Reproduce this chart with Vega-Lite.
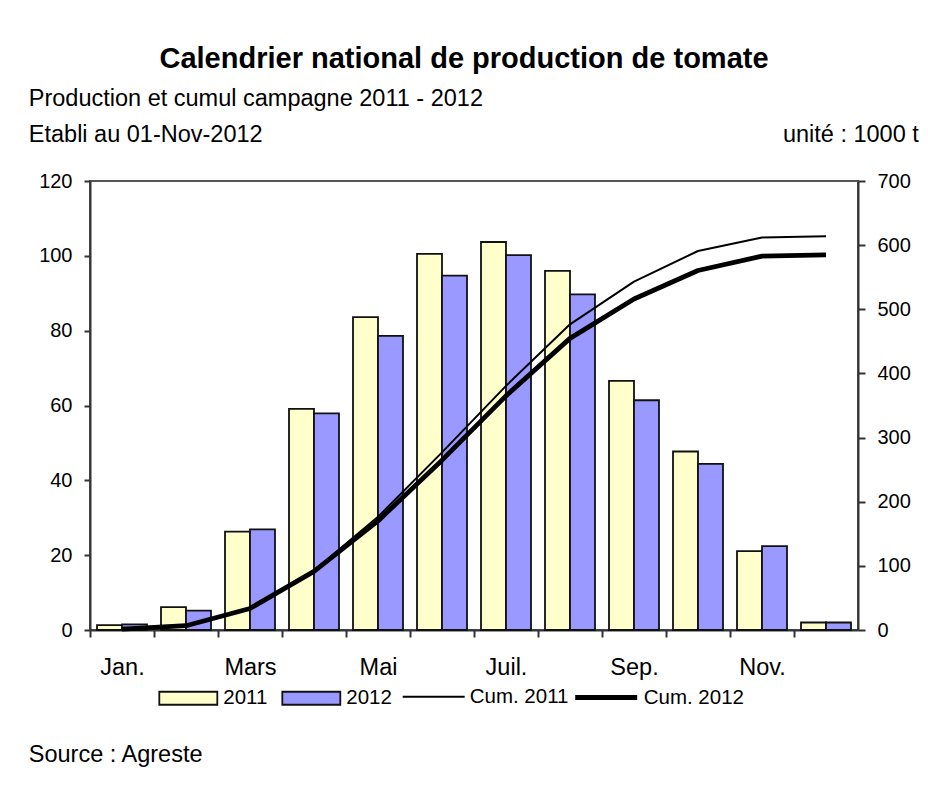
{
  "$schema": "https://vega.github.io/schema/vega-lite/v6.json",
  "width": 768,
  "height": 449,
  "autosize": {"type": "none"},
  "padding": {"left": 90, "top": 181, "right": 70, "bottom": 159},
  "background": "white",
  "config": {
    "font": "Liberation Sans",
    "view": {"stroke": "#555", "strokeWidth": 2},
    "axis": {
      "domainColor": "#333", "domainWidth": 2, "tickColor": "#333", "tickWidth": 2,
      "labelColor": "#000", "labelFont": "Liberation Sans", "grid": false,
      "titleFont": "Liberation Sans", "titleColor": "#000", "titleFontWeight": "normal"
    }
  },
  "title": {
    "text": "Calendrier national de production de tomate",
    "anchor": "middle", "frame": "group", "orient": "top",
    "font": "Liberation Sans", "fontSize": 29, "fontWeight": "bold", "color": "#000",
    "baseline": "alphabetic", "offset": 10, "dx": -10, "dy": 21
  },
  "datasets": {
    "prod": [
      {"month": "Jan.", "year": "2011", "value": 1.3}, {"month": "Jan.", "year": "2012", "value": 1.5},
      {"month": "Fév.", "year": "2011", "value": 6.1}, {"month": "Fév.", "year": "2012", "value": 5.2},
      {"month": "Mars", "year": "2011", "value": 26.3}, {"month": "Mars", "year": "2012", "value": 26.9},
      {"month": "Avr.", "year": "2011", "value": 59.1}, {"month": "Avr.", "year": "2012", "value": 57.9},
      {"month": "Mai", "year": "2011", "value": 83.6}, {"month": "Mai", "year": "2012", "value": 78.6},
      {"month": "Juin", "year": "2011", "value": 100.5}, {"month": "Juin", "year": "2012", "value": 94.7},
      {"month": "Juil.", "year": "2011", "value": 103.7}, {"month": "Juil.", "year": "2012", "value": 100.2},
      {"month": "Août", "year": "2011", "value": 96.0}, {"month": "Août", "year": "2012", "value": 89.7},
      {"month": "Sep.", "year": "2011", "value": 66.6}, {"month": "Sep.", "year": "2012", "value": 61.4},
      {"month": "Oct.", "year": "2011", "value": 47.7}, {"month": "Oct.", "year": "2012", "value": 44.4},
      {"month": "Nov.", "year": "2011", "value": 21.1}, {"month": "Nov.", "year": "2012", "value": 22.4},
      {"month": "Déc.", "year": "2011", "value": 2.0}, {"month": "Déc.", "year": "2012", "value": 2.0}
    ],
    "cum": [
      {"month": "Jan.", "series": "Cum. 2011", "cum": 1.3}, {"month": "Fév.", "series": "Cum. 2011", "cum": 7.4},
      {"month": "Mars", "series": "Cum. 2011", "cum": 33.7}, {"month": "Avr.", "series": "Cum. 2011", "cum": 92.8},
      {"month": "Mai", "series": "Cum. 2011", "cum": 176.4}, {"month": "Juin", "series": "Cum. 2011", "cum": 276.9},
      {"month": "Juil.", "series": "Cum. 2011", "cum": 380.6}, {"month": "Août", "series": "Cum. 2011", "cum": 476.6},
      {"month": "Sep.", "series": "Cum. 2011", "cum": 543.2}, {"month": "Oct.", "series": "Cum. 2011", "cum": 590.9},
      {"month": "Nov.", "series": "Cum. 2011", "cum": 612.0}, {"month": "Déc.", "series": "Cum. 2011", "cum": 614.0},
      {"month": "Jan.", "series": "Cum. 2012", "cum": 1.5}, {"month": "Fév.", "series": "Cum. 2012", "cum": 6.7},
      {"month": "Mars", "series": "Cum. 2012", "cum": 33.6}, {"month": "Avr.", "series": "Cum. 2012", "cum": 91.5},
      {"month": "Mai", "series": "Cum. 2012", "cum": 170.1}, {"month": "Juin", "series": "Cum. 2012", "cum": 264.8},
      {"month": "Juil.", "series": "Cum. 2012", "cum": 365.0}, {"month": "Août", "series": "Cum. 2012", "cum": 454.7},
      {"month": "Sep.", "series": "Cum. 2012", "cum": 516.1}, {"month": "Oct.", "series": "Cum. 2012", "cum": 560.5},
      {"month": "Nov.", "series": "Cum. 2012", "cum": 582.9}, {"month": "Déc.", "series": "Cum. 2012", "cum": 584.9}
    ]
  },
  "layer": [
    {
      "data": {"name": "prod"},
      "mark": {"type": "bar", "stroke": "#111", "strokeWidth": 1.8},
      "encoding": {
        "x": {
          "field": "month", "type": "ordinal",
          "sort": ["Jan.", "Fév.", "Mars", "Avr.", "Mai", "Juin", "Juil.", "Août", "Sep.", "Oct.", "Nov.", "Déc."],
          "scale": {"paddingInner": 0.21875, "paddingOuter": 0.109375},
          "axis": {
            "orient": "bottom", "labelAngle": 0, "labelFontSize": 23.5, "tickSize": 7, "labelPadding": 18,
            "bandPosition": 0.5, "tickOffset": -32, "labelOffset": 32,
            "labelExpr": "indexof(['Jan.','Mars','Mai','Juil.','Sep.','Nov.'], datum.value) >= 0 ? datum.value : ''",
            "title": "Source : Agreste", "titleFontSize": 23.5, "titleAlign": "left", "titleBaseline": "alphabetic",
            "titleX": -61.7, "titleY": 131.7, "titleAngle": 0
          }
        },
        "xOffset": {"field": "year", "type": "nominal", "sort": ["2011", "2012"]},
        "y": {
          "field": "value", "type": "quantitative",
          "scale": {"domain": [0, 120], "nice": false},
          "axis": {
            "orient": "left", "values": [0, 20, 40, 60, 80, 100, 120], "labelFontSize": 20, "tickSize": 6, "labelPadding": 12,
            "title": ["Production et cumul campagne 2011 - 2012", "Etabli au 01-Nov-2012"],
            "titleFontSize": 23.5, "titleAngle": 0, "titleAlign": "left", "titleBaseline": "alphabetic",
            "titleX": -61.7, "titleY": -76, "titleLineHeight": 36.7
          }
        },
        "fill": {
          "field": "year", "type": "nominal",
          "scale": {"domain": ["2011", "2012"], "range": ["#FFFFCC", "#9999FF"]},
          "legend": {
            "orient": "none", "legendX": 68.3, "legendY": 487, "direction": "horizontal", "title": null,
            "symbolType": "M-1,-0.224H1V0.224H-1Z", "symbolSize": 3364,
            "symbolStrokeColor": "#111", "symbolStrokeWidth": 1.8,
            "labelFont": "Liberation Sans", "labelFontSize": 20.5, "labelColor": "#000",
            "labelOffset": 5, "columnPadding": 10, "padding": 0
          }
        }
      }
    },
    {
      "data": {"name": "cum"},
      "mark": {"type": "line", "color": "#000", "strokeJoin": "round"},
      "encoding": {
        "x": {
          "field": "month", "type": "ordinal",
          "sort": ["Jan.", "Fév.", "Mars", "Avr.", "Mai", "Juin", "Juil.", "Août", "Sep.", "Oct.", "Nov.", "Déc."]
        },
        "y": {
          "field": "cum", "type": "quantitative",
          "scale": {"domain": [0, 700], "nice": false},
          "axis": {
            "orient": "right", "values": [0, 100, 200, 300, 400, 500, 600, 700], "labelFontSize": 20, "tickSize": 7, "labelPadding": 12,
            "title": "unité : 1000 t", "titleFontSize": 23.5, "titleAngle": 0, "titleAlign": "right", "titleBaseline": "alphabetic",
            "titleX": 60.3, "titleY": -39.3
          }
        },
        "strokeWidth": {
          "field": "series", "type": "ordinal",
          "scale": {"type": "ordinal", "domain": ["Cum. 2011", "Cum. 2012"], "range": [2, 4.8]},
          "legend": {
            "orient": "none", "legendX": 311.7, "legendY": 483, "direction": "horizontal", "title": null,
            "symbolType": "stroke", "symbolSize": 3844, "symbolStrokeColor": "#000",
            "labelFont": "Liberation Sans", "labelFontSize": 20.5, "labelColor": "#000",
            "labelOffset": 4, "columnPadding": -4, "padding": 0
          }
        }
      }
    }
  ],
  "resolve": {"scale": {"y": "independent"}}
}
